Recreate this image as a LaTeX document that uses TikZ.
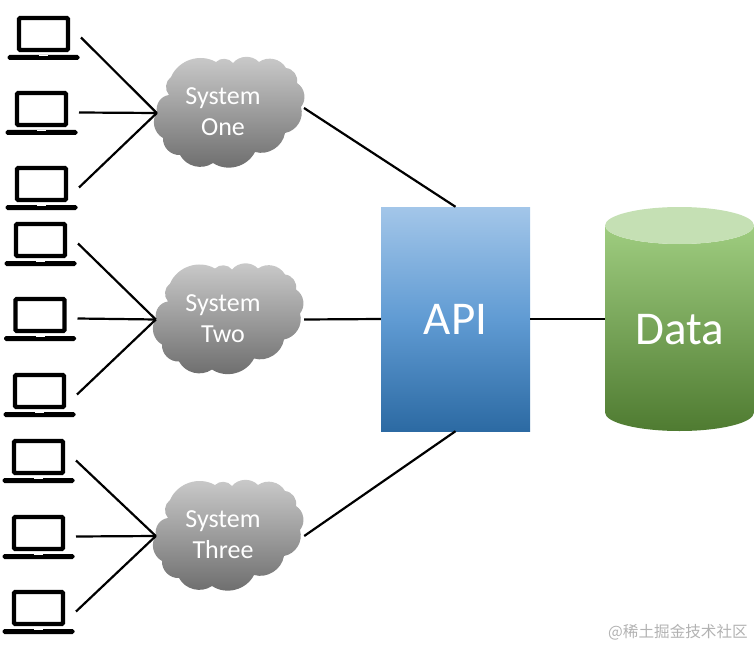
\documentclass[tikz,border=0pt]{standalone}
\usepackage{fontspec}
\setmainfont{Carlito}
\newfontfamily\cjkfont{Noto Sans CJK SC}
\usepackage{tikz}
\usetikzlibrary{positioning,calc}

\definecolor{apiTop}{HTML}{A3C6E9}
\definecolor{apiMid}{HTML}{609BD3}
\definecolor{apiBot}{HTML}{2C6AA3}
\definecolor{dataTop}{HTML}{9FCD80}
\definecolor{dataMid}{HTML}{70AD47}
\definecolor{dataBot}{HTML}{4F7B31}
\definecolor{dataLid}{HTML}{C5E0B4}

\tikzset{
  laptop/.style={draw=black,line width=4.2pt,rounded corners=1pt,minimum width=49pt,minimum height=32pt,inner sep=0pt},
  laptopbase/.style={fill=black,rounded corners=1.8pt,minimum width=72pt,minimum height=5pt,inner sep=0pt},
  laptopnotch/.style={fill=white,minimum width=9pt,minimum height=1.4pt,inner sep=0pt},
  link/.style={draw=black,line width=2.2pt},
  sysbox/.style={minimum width=148pt,minimum height=112pt,inner sep=0pt},
  systext/.style={text=white,align=center,font=\fontsize{26}{31}\selectfont},
  puff/.style={bend left=48},
  cloudfill/.style={top color=black!20,bottom color=black!58},
}

% outline of one cloud, around the centre of its box
\newcommand{\cloudoutline}[1]{
  \shade[cloudfill,shift={(#1.center)}]
    (-74,-1) to[puff] (-62,-18) to[puff] (-60,-36) to[puff] (-15,-51) to[puff] (2,-50)
    to[puff] (28,-51) to[puff] (55,-45) to[puff] (66,-30) to[puff] (70,-6)
    to[puff] (54,20) to[puff] (24,39) to[puff] (-18,50) to[puff] (-51,42)
    to[puff] (-68,25) to[puff] (-74,-1) -- cycle;
}

\begin{document}
\begin{tikzpicture}[x=1pt,y=-1pt]
  \useasboundingbox (0,0) rectangle (754,647);

  % Clouds
  \node[sysbox] (sysone) at (231,113) {};
  \node[sysbox] (systwo) at (230,319.5) {};
  \node[sysbox] (systhree) at (230,536) {};
  \cloudoutline{sysone}
  \cloudoutline{systwo}
  \cloudoutline{systhree}
  \node[systext] (onetext) at (223,112) {System\\One};
  \node[systext] (twotext) at (223,318.5) {System\\Two};
  \node[systext] (threetext) at (223,535) {System\\Three};
  \coordinate (sysone port) at (304,108);

  % API box
  \node[top color=apiTop,bottom color=apiBot,middle color=apiMid,minimum width=149pt,minimum height=224pt,inner sep=0pt,
    text=white,font=\fontsize{47}{50}\selectfont] (api) at (455.5,319) {API\hspace{4pt}};

  % Data store
  \node[minimum width=149pt,minimum height=224pt,inner sep=0pt] (data) at (679.5,319) {};
  \shade[top color=dataTop,middle color=dataMid,bottom color=dataBot]
    (605,225.5) -- (605,412.5) arc (180:0:74.5 and 18.5) -- (754,225.5) arc (0:180:74.5 and 18.5) -- cycle;
  \fill[dataLid] (679.5,225.5) ellipse (74.5 and 18.5);
  \node[text=white,font=\fontsize{47}{50}\selectfont] (datatext) at (679.5,330) {Data};

  % Laptops, with the point where each wire stops
  \foreach \name/\x/\y in {lapa/43.5/34, lapb/41.5/109, lapc/41.5/184,
                           lapd/40.5/240, lape/40/315, lapf/39.5/391,
                           lapg/38.5/457, laph/38.5/533, lapi/38.5/608} {
    \node[laptop] (\name) at (\x,\y) {};
    \node[laptopbase] (\name base) at (\x,\y+23.5) {};
    \node[laptopnotch] (\name notch) at (\x,\y+21.7) {};
    \coordinate (\name end) at (\x+37.5,\y+3.5);
  }

  % Wires
  \foreach \lap in {lapa,lapb,lapc} \draw[link] (\lap end) -- (sysone.west);
  \foreach \lap in {lapd,lape,lapf} \draw[link] (\lap end) -- (systwo.west);
  \foreach \lap in {lapg,laph,lapi} \draw[link] (\lap end) -- (systhree.west);
  \draw[link] (sysone port) -- (api.north);
  \draw[link] (systwo.east) -- (api.west);
  \draw[link] (systhree.east) -- (api.south);
  \draw[link] (api.east) -- (data.west);

  % Watermark
  \node[text=black!30,font=\cjkfont\fontsize{15.6}{17}\selectfont] (mark) at (678,632) {@稀土掘金技术社区};
\end{tikzpicture}
\end{document}
